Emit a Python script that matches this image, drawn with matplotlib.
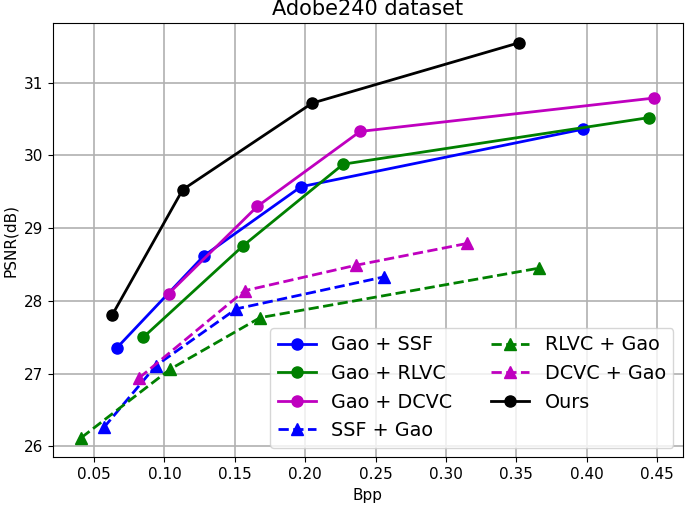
import matplotlib
matplotlib.use("Agg")
import matplotlib.pyplot as plt

# Rate-distortion points (Bpp, PSNR)
gao_ssf_bpp = [0.066, 0.128, 0.197, 0.397]
gao_ssf_psnr = [27.35, 28.62, 29.57, 30.36]
gao_rlvc_bpp = [0.085, 0.156, 0.227, 0.444]
gao_rlvc_psnr = [27.50, 28.76, 29.88, 30.52]
gao_dcvc_bpp = [0.103, 0.166, 0.239, 0.448]
gao_dcvc_psnr = [28.10, 29.30, 30.33, 30.79]
ssf_gao_bpp = [0.057, 0.094, 0.151, 0.256]
ssf_gao_psnr = [26.26, 27.11, 27.89, 28.33]
rlvc_gao_bpp = [0.041, 0.104, 0.168, 0.366]
rlvc_gao_psnr = [26.12, 27.06, 27.77, 28.45]
dcvc_gao_bpp = [0.082, 0.157, 0.236, 0.315]
dcvc_gao_psnr = [26.94, 28.14, 28.49, 28.79]
ours_bpp = [0.063, 0.113, 0.205, 0.352]
ours_psnr = [27.81, 29.53, 30.72, 31.55]

fig, ax = plt.subplots(figsize=(6.85, 5.11), dpi=100)

ax.plot(gao_ssf_bpp, gao_ssf_psnr, "b-o", lw=2, ms=8, label="Gao + SSF")
ax.plot(gao_rlvc_bpp, gao_rlvc_psnr, "g-o", lw=2, ms=8, label="Gao + RLVC")
ax.plot(gao_dcvc_bpp, gao_dcvc_psnr, "m-o", lw=2, ms=8, label="Gao + DCVC")
ax.plot(ssf_gao_bpp, ssf_gao_psnr, "b--^", lw=2, ms=8, label="SSF + Gao")
ax.plot(rlvc_gao_bpp, rlvc_gao_psnr, "g--^", lw=2, ms=8, label="RLVC + Gao")
ax.plot(dcvc_gao_bpp, dcvc_gao_psnr, "m--^", lw=2, ms=8, label="DCVC + Gao")
ax.plot(ours_bpp, ours_psnr, "k-o", lw=2, ms=8, label="Ours")

ax.set_xticks([0.05, 0.10, 0.15, 0.20, 0.25, 0.30, 0.35, 0.40, 0.45])
ax.set_yticks([26, 27, 28, 29, 30, 31])
ax.tick_params(labelsize=11)
ax.grid(True, lw=1.2)
ax.set_xlabel("Bpp", fontsize=11)
ax.set_ylabel("PSNR(dB)", fontsize=11)
ax.set_title("Adobe240 dataset", fontsize=15)
ax.legend(ncol=2, loc="lower right", fontsize=13.8)

fig.subplots_adjust(left=0.077, right=0.997, top=0.955, bottom=0.105)
fig.savefig("out.png")
